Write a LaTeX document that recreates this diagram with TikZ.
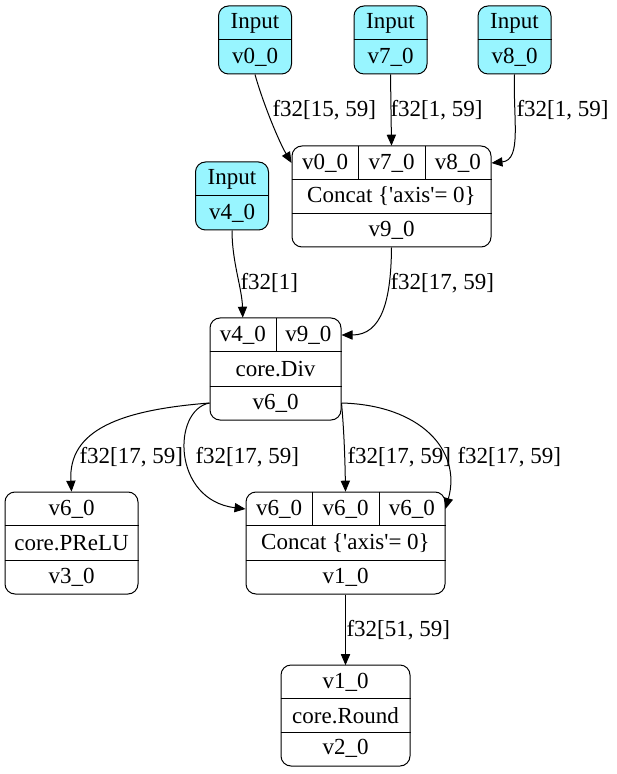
\documentclass[tikz,border=0pt]{standalone}
\usepackage{fontspec}
\setmainfont{Liberation Serif}
\usetikzlibrary{arrows.meta}
\definecolor{inputcyan}{RGB}{152,245,255}
\begin{document}
\begin{tikzpicture}[
    x=0.5pt, y=-0.5pt,
    rec/.style={
        draw,
        line width=0.5pt,
        rounded corners=5pt,
        inner sep=0pt
    },
    inp/.style={rec, fill=inputcyan, minimum width=36.5pt, minimum height=34pt},
    cell/.style={inner sep=0pt, minimum height=16.8pt},
    lbl/.style={anchor=west, inner sep=0pt},
    every path/.style={line width=0.5pt},
    >={Triangle[length=5.5pt,width=4.6pt]},
    font=\fontsize{11.5}{13}\selectfont
]
\useasboundingbox (0,0) rectangle (616,774);

% Inputs
\foreach \n/\x/\y/\v in {i0/255/40/v0\_0, i7/390.5/40/v7\_0, i8/514.5/40/v8\_0, i4/232/196/v4\_0} {
    \node[inp] (\n) at (\x,\y) {};
    \node[cell, minimum width=36.5pt] (\n t) at (\x,\y-17) {Input};
    \node[cell, minimum width=36.5pt] (\n v) at (\x,\y+17) {\v};
    \draw (\n.west) -- (\n.east);
}

% Concat v9_0
\node[rec, minimum width=99.5pt, minimum height=50.5pt] (c9) at (391.5,196.5) {};
\node[cell, minimum width=33.17pt] (c9a) at (325.2,163) {v0\_0};
\node[cell, minimum width=33.17pt] (c9b) at (391.5,163) {v7\_0};
\node[cell, minimum width=33.17pt] (c9c) at (457.8,163) {v8\_0};
\node[cell, minimum width=99.5pt] (c9m) at (391.5,196.5) {Concat \{\textquotesingle axis\textquotesingle= 0\}};
\node[cell, minimum width=99.5pt] (c9o) at (391.5,230) {v9\_0};
\draw (c9m.north west) -- (c9m.north east);
\draw (c9m.south west) -- (c9m.south east);
\draw (c9a.north east) -- (c9a.south east);
\draw (c9b.north east) -- (c9b.south east);

% core.Div
\node[rec, minimum width=65.5pt, minimum height=51pt] (dv) at (275.5,369) {};
\node[cell, minimum width=32.75pt] (dva) at (242.75,335) {v4\_0};
\node[cell, minimum width=32.75pt] (dvb) at (308.25,335) {v9\_0};
\node[cell, minimum width=65.5pt] (dvm) at (275.5,369) {core.Div};
\node[cell, minimum width=65.5pt] (dvo) at (275.5,403) {v6\_0};
\draw (dvm.north west) -- (dvm.north east);
\draw (dvm.south west) -- (dvm.south east);
\draw (dva.north east) -- (dva.south east);

% core.PReLU
\node[rec, minimum width=66.5pt, minimum height=51pt] (pr) at (71.5,543) {};
\node[cell, minimum width=66.5pt] (pra) at (71.5,509) {v6\_0};
\node[cell, minimum width=66.5pt] (prm) at (71.5,543) {core.PReLU};
\node[cell, minimum width=66.5pt] (pro) at (71.5,577) {v3\_0};
\draw (prm.north west) -- (prm.north east);
\draw (prm.south west) -- (prm.south east);

% Concat v1_0
\node[rec, minimum width=99.5pt, minimum height=51pt] (c1) at (345.5,543) {};
\node[cell, minimum width=33.17pt] (c1a) at (279.2,509) {v6\_0};
\node[cell, minimum width=33.17pt] (c1b) at (345.5,509) {v6\_0};
\node[cell, minimum width=33.17pt] (c1c) at (411.8,509) {v6\_0};
\node[cell, minimum width=99.5pt] (c1m) at (345.5,543) {Concat \{\textquotesingle axis\textquotesingle= 0\}};
\node[cell, minimum width=99.5pt] (c1o) at (345.5,577) {v1\_0};
\draw (c1m.north west) -- (c1m.north east);
\draw (c1m.south west) -- (c1m.south east);
\draw (c1a.north east) -- (c1a.south east);
\draw (c1b.north east) -- (c1b.south east);

% core.Round
\node[rec, minimum width=64.5pt, minimum height=50.5pt] (rd) at (345.5,715.5) {};
\node[cell, minimum width=64.5pt] (rda) at (345.5,682.5) {v1\_0};
\node[cell, minimum width=64.5pt] (rdm) at (345.5,715.5) {core.Round};
\node[cell, minimum width=64.5pt] (rdo) at (345.5,748.5) {v2\_0};
\draw (rdm.north west) -- (rdm.north east);
\draw (rdm.south west) -- (rdm.south east);

% Edges
\draw[->] (i0.south) .. controls (262,100) and (278,140) .. (c9a.west);
\draw[->] (i7.south) -- (c9b.north);
\draw[->] (i8.south) .. controls (513,120) and (522,160) .. (c9c.east);
\draw[->] (i4.south) .. controls (232,262) and (242,288) .. (dva.north);
\draw[->] (c9.south) .. controls (391,300) and (382,335) .. (dvb.east);
\draw[->] (dvo.west) .. controls (120,410) and (68,430) .. (pra.north);
\draw[->] (dvo.west) .. controls (172,410) and (172,500) .. (c1a.west);
\draw[->] (dvo.east) .. controls (344,430) and (345,460) .. (c1b.north);
\draw[->] (dvo.east) .. controls (420,405) and (462,450) .. (c1c.east);
\draw[->] (c1.south) -- (rda.north);

% Labels
\node[lbl] (l1) at (272,110) {f32[15, 59]};
\node[lbl] (l2) at (390,110) {f32[1, 59]};
\node[lbl] (l3) at (516,110) {f32[1, 59]};
\node[lbl] (l4) at (240,283) {f32[1]};
\node[lbl] (l5) at (390,283) {f32[17, 59]};
\node[lbl] (l6) at (79,457) {f32[17, 59]};
\node[lbl] (l7) at (195,457) {f32[17, 59]};
\node[lbl] (l8) at (347,457) {f32[17, 59]};
\node[lbl] (l9) at (457,457) {f32[17, 59]};
\node[lbl] (l10) at (346,630) {f32[51, 59]};

\end{tikzpicture}
\end{document}
